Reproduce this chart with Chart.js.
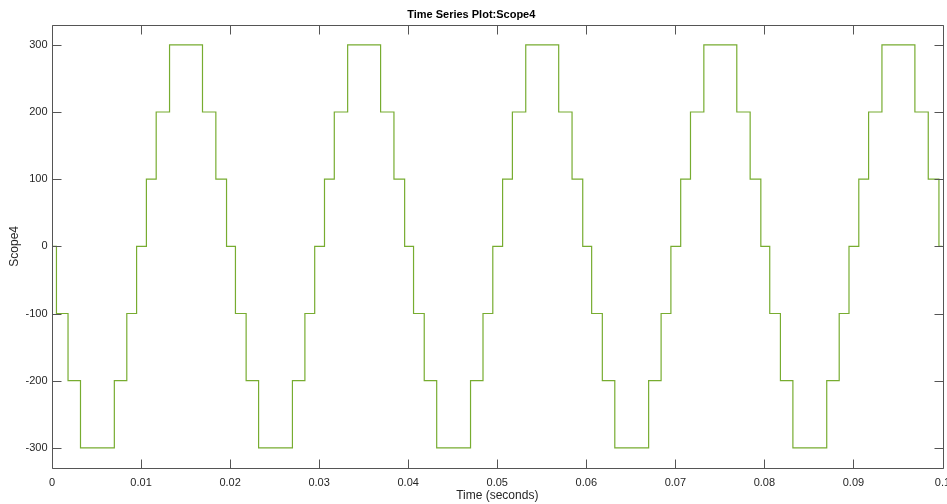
<!DOCTYPE html>
<html>
<head>
<meta charset="utf-8">
<script src="https://cdn.jsdelivr.net/npm/chart.js@4/dist/chart.umd.min.js"></script>
<style>
  html, body { margin: 0; padding: 0; background: #fff; }
  #wrap { width: 947px; height: 504px; }
</style>
</head>
<body>
<div id="wrap"><canvas id="scope"></canvas></div>
<script>
const stepTimes = [
    0, 0.0005, 0.0018, 0.0032, 0.0070, 0.0084, 0.0095, 0.0106, 0.0117, 0.0132, 0.0169, 0.0184, 0.0196,
    0.0206, 0.0218, 0.0232, 0.0270, 0.0284, 0.0295, 0.0306, 0.0317, 0.0332, 0.0369, 0.0384, 0.0396,
    0.0406, 0.0418, 0.0432, 0.0470, 0.0484, 0.0495, 0.0506, 0.0517, 0.0532, 0.0569, 0.0584, 0.0596,
    0.0606, 0.0618, 0.0632, 0.0670, 0.0684, 0.0695, 0.0706, 0.0717, 0.0732, 0.0769, 0.0784, 0.0796,
    0.0806, 0.0818, 0.0832, 0.0870, 0.0884, 0.0895, 0.0906, 0.0917, 0.0932, 0.0969, 0.0984, 0.0996,
    0.1
];
const stepLevels = [
    0, -100, -200, -300, -200, -100, 0, 100, 200, 300, 200, 100, 0,
    -100, -200, -300, -200, -100, 0, 100, 200, 300, 200, 100, 0,
    -100, -200, -300, -200, -100, 0, 100, 200, 300, 200, 100, 0,
    -100, -200, -300, -200, -100, 0, 100, 200, 300, 200, 100, 0,
    -100, -200, -300, -200, -100, 0, 100, 200, 300, 200, 100, 0,
    0
];
const xTicks = [0, 0.01, 0.02, 0.03, 0.04, 0.05, 0.06, 0.07, 0.08, 0.09, 0.1];
const yTicks = [-300, -200, -100, 0, 100, 200, 300];

const points = stepTimes.map((t, i) => ({ x: t, y: stepLevels[i] }));

const FONT = 'Liberation Sans, Arial, Helvetica, sans-serif';
const AXIS_COLOR = '#555555';
const TICK_LEN = 9;

// MATLAB style box with inward ticks on all four sides
const boxPlugin = {
    id: 'box',
    afterDraw(chart) {
        const { ctx, chartArea: a, scales } = chart;
        ctx.save();
        ctx.strokeStyle = AXIS_COLOR;
        ctx.lineWidth = 1;
        ctx.beginPath();
        const l = Math.round(a.left) + 0.5, r = Math.round(a.right) + 0.5;
        const t = Math.round(a.top) + 0.5, b = Math.round(a.bottom) + 0.5;
        ctx.rect(l, t, r - l, b - t);
        xTicks.forEach(v => {
            const px = Math.round(scales.x.getPixelForValue(v)) + 0.5;
            ctx.moveTo(px, b); ctx.lineTo(px, b - TICK_LEN);
            ctx.moveTo(px, t); ctx.lineTo(px, t + TICK_LEN);
        });
        yTicks.forEach(v => {
            const py = Math.round(scales.y.getPixelForValue(v)) + 0.5;
            ctx.moveTo(l, py); ctx.lineTo(l + TICK_LEN, py);
            ctx.moveTo(r, py); ctx.lineTo(r - TICK_LEN, py);
        });
        ctx.stroke();
        ctx.restore();
    }
};

new Chart(document.getElementById('scope'), {
    type: 'line',
    data: {
        datasets: [{
            label: 'Scope4',
            data: points,
            stepped: 'before',
            borderColor: '#77ac30',
            borderWidth: 1.2,
            pointRadius: 0,
            fill: false,
            tension: 0
        }]
    },
    options: {
        responsive: true,
        maintainAspectRatio: false,
        animation: false,
        layout: { padding: { left: 0, right: 4.5, top: 0, bottom: 0 } },
        plugins: {
            legend: { display: false },
            tooltip: { enabled: false },
            title: {
                display: true,
                text: 'Time Series Plot:Scope4',
                color: '#000',
                font: { family: FONT, size: 11, weight: 'bold' },
                padding: { top: 8.4, bottom: 3.1 }
            }
        },
        scales: {
            x: {
                type: 'linear',
                min: 0,
                max: 0.1,
                afterBuildTicks: (scale) => { scale.ticks = xTicks.map(v => ({ value: v })); },
                afterFit: (scale) => {
                    scale.height = 36;
                    scale.paddingLeft = 0;
                    scale.paddingRight = 0;
                },
                grid: { display: false, drawTicks: false },
                border: { display: false },
                ticks: {
                    color: '#262626',
                    font: { family: FONT, size: 11 },
                    padding: 8,
                    maxRotation: 0,
                    autoSkip: false,
                    callback: (v) => String(Number(Number(v).toFixed(2)))
                },
                title: {
                    display: true,
                    text: 'Time (seconds)',
                    color: '#262626',
                    font: { family: FONT, size: 12 },
                    padding: { top: 0, bottom: 0.8 }
                }
            },
            y: {
                min: -330,
                max: 330,
                afterBuildTicks: (scale) => { scale.ticks = yTicks.map(v => ({ value: v })); },
                afterFit: (scale) => { scale.width = 52; },
                grid: { display: false, drawTicks: false },
                border: { display: false },
                ticks: {
                    color: '#262626',
                    font: { family: FONT, size: 11 },
                    padding: 4.5,
                    autoSkip: false
                },
                title: {
                    display: true,
                    text: 'Scope4',
                    color: '#262626',
                    font: { family: FONT, size: 12 },
                    padding: { top: 7.8, bottom: 0 }
                }
            }
        }
    },
    plugins: [boxPlugin]
});
</script>
</body>
</html>
